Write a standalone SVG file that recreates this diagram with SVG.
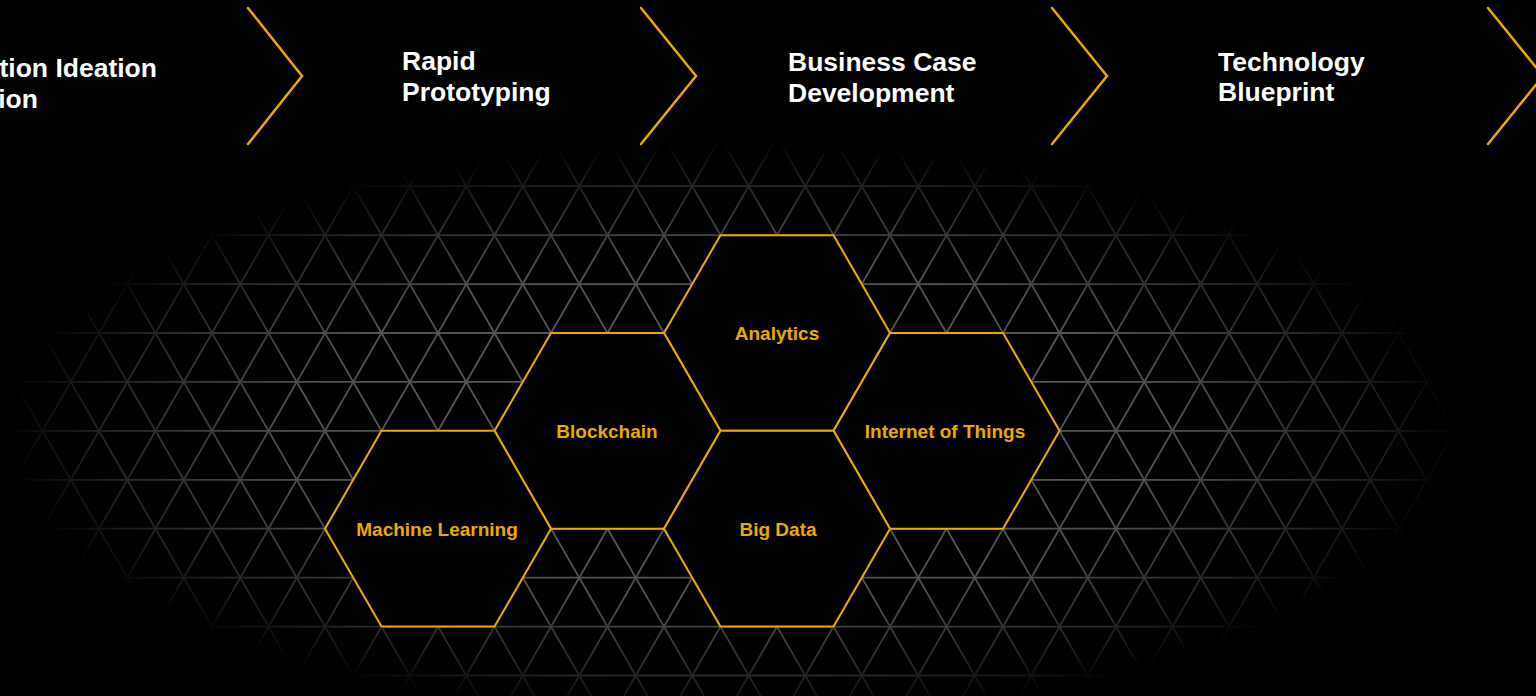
<svg xmlns="http://www.w3.org/2000/svg" width="1536" height="696" viewBox="0 0 1536 696">
  <style>
    .stage { font-family: "Liberation Sans", Arial, sans-serif; font-weight: bold; font-size: 26.5px; fill: #ffffff; }
    .hex { fill: #000000; stroke: #EBAA00; stroke-width: 2; stroke-linejoin: miter; }
    .hexlabel { font-family: "Liberation Sans", Arial, sans-serif; font-weight: bold; font-size: 19px; fill: #EBAA00; text-anchor: middle; }
    .chev { fill: none; stroke: #EBAA00; stroke-width: 2.5; stroke-linecap: round; stroke-linejoin: miter; }
    .grid { fill: none; stroke: #606060; stroke-width: 1.8; }
  </style>
  <defs>
    <radialGradient id="fade" cx="0.5" cy="0.5" r="0.5">
      <stop offset="0" stop-color="#ffffff" stop-opacity="1"/>
      <stop offset="0.6" stop-color="#ffffff" stop-opacity="0.85"/>
      <stop offset="0.85" stop-color="#ffffff" stop-opacity="0.4"/>
      <stop offset="1" stop-color="#ffffff" stop-opacity="0"/>
    </radialGradient>
    <mask id="gridMask" maskUnits="userSpaceOnUse" x="0" y="0" width="1536" height="696">
      <rect x="0" y="141" width="1460" height="580" fill="url(#fade)"/>
    </mask>
    <clipPath id="gridClip">
      <rect x="0" y="137" width="1536" height="560"/>
    </clipPath>
  </defs>

  <rect x="0" y="0" width="1536" height="696" fill="#000000"/>

  <!-- triangular lattice background -->
  <g id="grid" class="grid" mask="url(#gridMask)" clip-path="url(#gridClip)">
    <path d="M0,137.28 H1536 M0,186.21 H1536 M0,235.14 H1536 M0,284.07 H1536 M0,333 H1536 M0,381.93 H1536 M0,430.86 H1536 M0,479.79 H1536 M0,528.72 H1536 M0,577.65 H1536 M0,626.58 H1536 M0,675.51 H1536 M0,724.44 H1536"/>
    <path d="M-300.7,130 l346.4,600 m-289.9,-600 l346.4,600 m-289.9,-600 l346.4,600 m-289.9,-600 l346.4,600 m-289.9,-600 l346.4,600 m-289.9,-600 l346.4,600 m-289.9,-600 l346.4,600 m-289.9,-600 l346.4,600 m-289.9,-600 l346.4,600 m-289.9,-600 l346.4,600 m-289.9,-600 l346.4,600 m-289.9,-600 l346.4,600 m-289.9,-600 l346.4,600 m-289.9,-600 l346.4,600 m-289.9,-600 l346.4,600 m-289.9,-600 l346.4,600 m-289.9,-600 l346.4,600 m-289.9,-600 l346.4,600 m-289.9,-600 l346.4,600 m-289.9,-600 l346.4,600 m-289.9,-600 l346.4,600 m-289.9,-600 l346.4,600 m-289.9,-600 l346.4,600 m-289.9,-600 l346.4,600 m-289.9,-600 l346.4,600 m-289.9,-600 l346.4,600 m-289.9,-600 l346.4,600 m-289.9,-600 l346.4,600 m-289.9,-600 l346.4,600 m-289.9,-600 l346.4,600 m-289.9,-600 l346.4,600 m-289.9,-600 l346.4,600"/>
    <path d="M46.7,130 l-346.4,600 m402.9,-600 l-346.4,600 m402.9,-600 l-346.4,600 m402.9,-600 l-346.4,600 m402.9,-600 l-346.4,600 m402.9,-600 l-346.4,600 m402.9,-600 l-346.4,600 m402.9,-600 l-346.4,600 m402.9,-600 l-346.4,600 m402.9,-600 l-346.4,600 m402.9,-600 l-346.4,600 m402.9,-600 l-346.4,600 m402.9,-600 l-346.4,600 m402.9,-600 l-346.4,600 m402.9,-600 l-346.4,600 m402.9,-600 l-346.4,600 m402.9,-600 l-346.4,600 m402.9,-600 l-346.4,600 m402.9,-600 l-346.4,600 m402.9,-600 l-346.4,600 m402.9,-600 l-346.4,600 m402.9,-600 l-346.4,600 m402.9,-600 l-346.4,600 m402.9,-600 l-346.4,600 m402.9,-600 l-346.4,600 m402.9,-600 l-346.4,600 m402.9,-600 l-346.4,600 m402.9,-600 l-346.4,600 m402.9,-600 l-346.4,600 m402.9,-600 l-346.4,600 m402.9,-600 l-346.4,600 m402.9,-600 l-346.4,600"/>
  </g>

  <!-- stage separators (chevrons) -->
  <g id="connectors">
    <polyline class="chev" points="248,8 302,76 248,144"/>
    <polyline class="chev" points="641,8 696,76 641,144"/>
    <polyline class="chev" points="1052,8 1107,76 1052,144"/>
    <polyline class="chev" points="1488,8 1543,76 1488,144"/>
  </g>

  <!-- process stages -->
  <g id="stage-ideation">
    <text class="stage" x="157" y="77" text-anchor="end">tion Ideation</text>
    <text class="stage" x="38" y="108" text-anchor="end">ion</text>
  </g>
  <g id="stage-prototyping">
    <text class="stage" x="402" y="70">Rapid</text>
    <text class="stage" x="402" y="101">Prototyping</text>
  </g>
  <g id="stage-business-case">
    <text class="stage" x="788" y="71">Business Case</text>
    <text class="stage" x="788" y="102">Development</text>
  </g>
  <g id="stage-blueprint">
    <text class="stage" x="1218" y="71">Technology</text>
    <text class="stage" x="1218" y="101">Blueprint</text>
  </g>

  <!-- technology hexagons -->
  <g id="hex-analytics">
    <polygon class="hex" points="664,333 720.5,235.14 833.5,235.14 890,333 833.5,430.86 720.5,430.86"/>
    <text class="hexlabel" x="777" y="339.5">Analytics</text>
  </g>
  <g id="hex-blockchain">
    <polygon class="hex" points="494.5,430.86 551,333 664,333 720.5,430.86 664,528.72 551,528.72"/>
    <text class="hexlabel" x="607" y="438">Blockchain</text>
  </g>
  <g id="hex-iot">
    <polygon class="hex" points="833.5,430.86 890,333 1003,333 1059.5,430.86 1003,528.72 890,528.72"/>
    <text class="hexlabel" x="945" y="438">Internet of Things</text>
  </g>
  <g id="hex-bigdata">
    <polygon class="hex" points="664,528.72 720.5,430.86 833.5,430.86 890,528.72 833.5,626.58 720.5,626.58"/>
    <text class="hexlabel" x="778" y="536">Big Data</text>
  </g>
  <g id="hex-ml">
    <polygon class="hex" points="325,528.72 381.5,430.86 494.5,430.86 551,528.72 494.5,626.58 381.5,626.58"/>
    <text class="hexlabel" x="437" y="536">Machine Learning</text>
  </g>
</svg>
